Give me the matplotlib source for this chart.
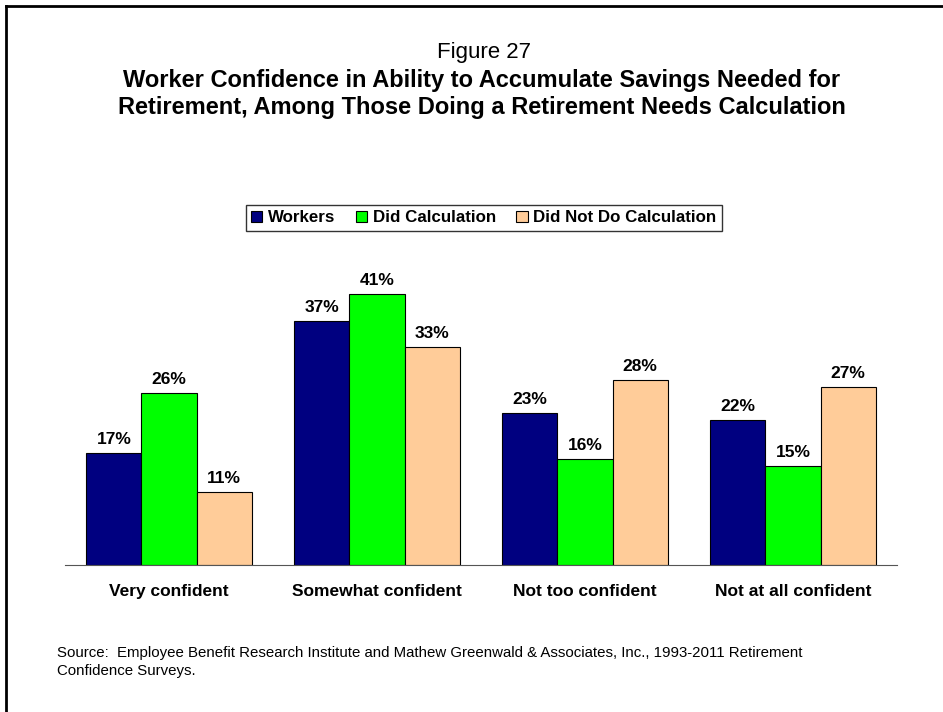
import matplotlib.pyplot as plt
import numpy as np

plt.rcParams['font.family'] = ['Liberation Sans', 'DejaVu Sans']

categories = ['Very confident', 'Somewhat confident', 'Not too confident', 'Not at all confident']
series_names = ['Workers', 'Did Calculation', 'Did Not Do Calculation']
workers = [17, 37, 23, 22]
did_calc = [26, 41, 16, 15]
did_not_calc = [11, 33, 28, 27]
colors = ['#000080', '#00FF00', '#FFCC99']

W, H = 943, 712
fig = plt.figure(figsize=(W / 100, H / 100), dpi=100)

# outer frame (only left and top visible in reference)
fig.add_artist(plt.Line2D([6 / W, 6 / W], [0, 1 - 6 / H], color='black', lw=2))
fig.add_artist(plt.Line2D([6 / W, 1], [1 - 6 / H, 1 - 6 / H], color='black', lw=2))

fig.text(484 / W, 1 - 58 / H, 'Figure 27', ha='center', va='baseline', fontsize=16)
fig.text(482 / W, 1 - 87 / H,
         'Worker Confidence in Ability to Accumulate Savings Needed for',
         ha='center', va='baseline', fontsize=17, fontweight='bold')
fig.text(482 / W, 1 - 114 / H,
         'Retirement, Among Those Doing a Retirement Needs Calculation',
         ha='center', va='baseline', fontsize=17, fontweight='bold')

ax = fig.add_axes([65 / W, (H - 565) / H, 832 / W, 297 / H])
x = np.arange(len(categories))
bw = 0.265
for i, (vals, name) in enumerate(zip([workers, did_calc, did_not_calc], series_names)):
    bars = ax.bar(x + (i - 1) * bw, vals, bw, color=colors[i], edgecolor='black',
                  linewidth=0.8, label=name)
    for b, v in zip(bars, vals):
        ax.annotate(f'{v}%', (b.get_x() + b.get_width() / 2, v), xytext=(0, 6.5),
                    textcoords='offset points', ha='center', va='baseline',
                    fontsize=12.5, fontweight='bold')

ax.set_xlim(-0.5, len(categories) - 0.5)
ax.set_ylim(0, 45)
ax.set_yticks([])
ax.set_xticks(x)
ax.set_xticklabels(categories, fontsize=12.5, fontweight='bold')
ax.tick_params(axis='x', length=0, pad=14)
for s in ['top', 'right', 'left']:
    ax.spines[s].set_visible(False)
ax.spines['bottom'].set_color('#555555')

leg = fig.legend(loc='center', bbox_to_anchor=(484 / W, 1 - 218 / H), ncol=3,
                 prop={'size': 12.2, 'weight': 'bold'}, frameon=True, fancybox=False,
                 edgecolor='black', handlelength=0.65, handleheight=0.65,
                 handletextpad=0.35, columnspacing=1.2, borderpad=0.35, borderaxespad=0)
leg.get_frame().set_linewidth(1.0)

fig.text(57 / W, 1 - 657 / H,
         'Source:  Employee Benefit Research Institute and Mathew Greenwald & Associates, Inc., 1993-2011 Retirement',
         ha='left', va='baseline', fontsize=10.8)
fig.text(57 / W, 1 - 675 / H, 'Confidence Surveys.',
         ha='left', va='baseline', fontsize=10.8)

fig.savefig('out.png', dpi=100)
